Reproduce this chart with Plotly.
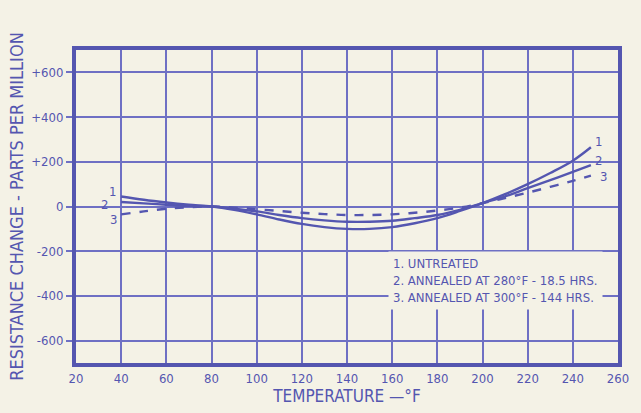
import plotly.graph_objects as go

temps = [40, 50, 60, 70, 80, 90, 100, 110, 120, 130, 140, 150, 160, 170, 180, 190, 200, 210, 220, 230, 240, 248]
untreated = [45, 30, 18, 8, 0, -15, -35, -58, -78, -92, -100, -100, -92, -75, -52, -20, 15, 55, 100, 150, 205, 265]
annealed_280 = [20, 14, 8, 3, 0, -10, -22, -38, -52, -62, -68, -68, -64, -52, -38, -15, 15, 45, 82, 118, 155, 185]
annealed_300 = [-35, -22, -10, -3, 0, -5, -12, -20, -28, -34, -38, -38, -35, -28, -18, -5, 15, 38, 62, 88, 115, 138]

x_ticks = [20, 40, 60, 80, 100, 120, 140, 160, 180, 200, 220, 240, 260]
x_ticktext = ["20", "40", "60", "80", "100", "120", "140", "160", "180", "200", "220", "240", "260"]
y_ticks = [600, 400, 200, 0, -200, -400, -600]
y_ticktext = ["+600", "+400", "+200", "0", "-200", "-400", "-600"]

legend_lines = ["1. UNTREATED", "2. ANNEALED AT 280°F - 18.5 HRS.", "3. ANNEALED AT 300°F - 144 HRS."]

INK = "#5456b0"
GRID = "#6e70c4"
PAPER = "#f4f2e6"
FONT = "DejaVu Sans Condensed, Liberation Sans Narrow, DejaVu Sans, sans-serif"

fig = go.Figure()
series = [(untreated, "solid"), (annealed_280, "solid"), (annealed_300, "dash")]
for vals, dash in series:
    fig.add_trace(go.Scatter(
        x=temps, y=vals, mode="lines",
        line=dict(color=INK, width=2.4, dash=dash, shape="spline", smoothing=1.0),
        showlegend=False, hoverinfo="skip",
    ))

# curve number labels
left_pos = [(36, 66), (32.5, 9), (36.5, -57)]
right_pos = [(251.5, 289), (251.5, 204), (253.5, 136)]
for i, (pos_l, pos_r) in enumerate(zip(left_pos, right_pos)):
    for (xx, yy) in (pos_l, pos_r):
        fig.add_annotation(x=xx, y=yy, text=str(i + 1), showarrow=False,
                           font=dict(family=FONT, size=13, color=INK))

fig.add_annotation(
    x=158, y=-330, xanchor="left", yanchor="middle", align="left",
    text="<br>".join(legend_lines), showarrow=False,
    bgcolor=PAPER, borderpad=4,
    font=dict(family=FONT, size=13, color=INK),
)

fig.update_layout(
    width=641, height=413,
    margin=dict(l=76, r=12, t=50, b=42),
    paper_bgcolor=PAPER, plot_bgcolor=PAPER,
    font=dict(family=FONT, color=INK, size=13),
    xaxis=dict(
        range=[20, 260], tickvals=x_ticks, ticktext=x_ticktext,
        showgrid=True, gridcolor=GRID, gridwidth=1.5,
        showline=True, linecolor=INK, linewidth=4, mirror=True,
        ticks="", zeroline=False,
        title=dict(text="TEMPERATURE —°F", font=dict(family=FONT, size=17, color=INK), standoff=4),
        tickfont=dict(family=FONT, size=13, color=INK),
    ),
    yaxis=dict(
        range=[-700, 700], tickvals=y_ticks, ticktext=y_ticktext,
        showgrid=True, gridcolor=GRID, gridwidth=1.5,
        showline=True, linecolor=INK, linewidth=4, mirror=True,
        ticks="outside", ticklen=6, tickcolor=GRID, tickwidth=1.5,
        zeroline=False,
        title=dict(text="RESISTANCE CHANGE - PARTS PER MILLION", font=dict(family=FONT, size=18, color=INK), standoff=4),
        tickfont=dict(family=FONT, size=13, color=INK),
    ),
)

fig.write_html(
    "out.html",
    config={"displayModeBar": False},
    post_script="document.body.style.margin='0';document.body.style.background='%s';" % PAPER,
)
